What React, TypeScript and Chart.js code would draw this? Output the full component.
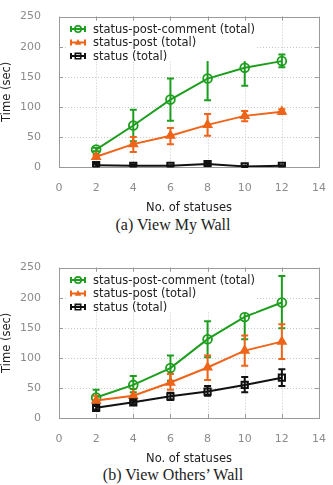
import { useEffect, useRef } from "react";
import { Chart, registerables } from "chart.js";

Chart.register(...registerables);

// Number of statuses on the wall (x positions of every series)
const statusCounts = [2, 4, 6, 8, 10, 12];
const xTickValues = [0, 2, 4, 6, 8, 10, 12, 14];
const yTickValues = [0, 50, 100, 150, 200, 250];
const seriesLabels = ["status-post-comment (total)", "status-post (total)", "status (total)"];

// (a) View My Wall — mean time and error-bar bounds, seconds
const myWallSpcMean = [29, 69, 112, 147, 165, 176];
const myWallSpcLow = [26, 43, 77, 111, 135, 166];
const myWallSpcHigh = [32, 95, 147, 184, 193, 187];
const myWallSpMean = [17, 38, 52, 70, 85, 92];
const myWallSpLow = [14, 25, 38, 52, 76, 88];
const myWallSpHigh = [20, 50, 65, 88, 93, 96];
const myWallSMean = [3, 2, 2, 5, 1, 2];
const myWallSLow = [1, 1, 1, 2, 0, 1];
const myWallSHigh = [5, 4, 3, 7, 2, 3];

// (b) View Others' Wall
const othersWallSpcMean = [34, 55, 83, 131, 168, 192];
const othersWallSpcLow = [22, 43, 62, 101, 131, 149];
const othersWallSpcHigh = [47, 70, 104, 161, 205, 236];
const othersWallSpMean = [29, 37, 59, 84, 112, 127];
const othersWallSpLow = [21, 29, 47, 63, 87, 98];
const othersWallSpHigh = [37, 48, 73, 104, 137, 156];
const othersWallSMean = [17, 26, 36, 44, 55, 67];
const othersWallSLow = [14, 23, 30, 37, 43, 53];
const othersWallSHigh = [20, 29, 42, 53, 68, 81];

const GREEN = "#1e9e1e";
const ORANGE = "#ee6418";
const BLACK = "#111111";
const seriesColors = [GREEN, ORANGE, BLACK];
const seriesStyles = ["circle", "triangle", "rect"];

type Series = { mean: number[]; low: number[]; high: number[] };

const FONT = "'DejaVu Sans', sans-serif";

function drawMarker(ctx: CanvasRenderingContext2D, style: string, x: number, y: number, r: number, color: string) {
  ctx.save();
  ctx.strokeStyle = color;
  ctx.fillStyle = color;
  ctx.lineWidth = 1.6;
  ctx.beginPath();
  if (style === "circle") {
    ctx.arc(x, y, r, 0, Math.PI * 2);
    ctx.stroke();
  } else if (style === "triangle") {
    ctx.moveTo(x, y - r * 1.1);
    ctx.lineTo(x + r, y + r * 0.7);
    ctx.lineTo(x - r, y + r * 0.7);
    ctx.closePath();
    ctx.fill();
  } else {
    ctx.rect(x - r * 0.85, y - r * 0.85, r * 1.7, r * 1.7);
    ctx.stroke();
  }
  ctx.restore();
}

const framePlugin = {
  id: "gnuFrame",
  beforeDatasetsDraw(chart: any) {
    const { ctx, chartArea: a, scales } = chart;
    const xs = scales.x;
    const ys = scales.y;
    ctx.save();
    // dotted grid
    ctx.strokeStyle = "#c8c8c8";
    ctx.lineWidth = 1;
    ctx.setLineDash([1, 2]);
    for (const v of xTickValues) {
      const px = Math.round(xs.getPixelForValue(v)) + 0.5;
      if (px <= a.left + 1 || px >= a.right - 1) continue;
      ctx.beginPath();
      ctx.moveTo(px, a.top);
      ctx.lineTo(px, a.bottom);
      ctx.stroke();
    }
    for (const v of yTickValues) {
      const py = Math.round(ys.getPixelForValue(v)) + 0.5;
      if (py <= a.top + 1 || py >= a.bottom - 1) continue;
      ctx.beginPath();
      ctx.moveTo(a.left, py);
      ctx.lineTo(a.right, py);
      ctx.stroke();
    }
    ctx.setLineDash([]);
    // frame and inward ticks
    ctx.strokeStyle = "#9a9a9a";
    ctx.strokeRect(Math.round(a.left) + 0.5, Math.round(a.top) + 0.5, Math.round(a.right - a.left), Math.round(a.bottom - a.top));
    ctx.beginPath();
    for (const v of xTickValues) {
      const px = Math.round(xs.getPixelForValue(v)) + 0.5;
      ctx.moveTo(px, a.bottom);
      ctx.lineTo(px, a.bottom - 4);
      ctx.moveTo(px, a.top);
      ctx.lineTo(px, a.top + 4);
    }
    for (const v of yTickValues) {
      const py = Math.round(ys.getPixelForValue(v)) + 0.5;
      ctx.moveTo(a.left, py);
      ctx.lineTo(a.left + 4, py);
      ctx.moveTo(a.right, py);
      ctx.lineTo(a.right - 4, py);
    }
    ctx.stroke();

    // error bars
    const bars: Series[] = chart.options.plugins.gnuFrame.series;
    bars.forEach((s, i) => {
      ctx.strokeStyle = seriesColors[i];
      ctx.lineWidth = 2;
      ctx.beginPath();
      statusCounts.forEach((c, j) => {
        const px = xs.getPixelForValue(c);
        const yl = ys.getPixelForValue(s.low[j]);
        const yh = ys.getPixelForValue(s.high[j]);
        ctx.moveTo(px, yl);
        ctx.lineTo(px, yh);
        ctx.moveTo(px - 3.5, yl);
        ctx.lineTo(px + 3.5, yl);
        ctx.moveTo(px - 3.5, yh);
        ctx.lineTo(px + 3.5, yh);
      });
      ctx.stroke();
    });
    ctx.restore();
  },
  afterDatasetsDraw(chart: any) {
    const { ctx, chartArea: a } = chart;
    ctx.save();
    ctx.font = `11.5px ${FONT}`;
    const textX = a.left + 34;
    const symX = a.left + 19;
    const rows = [a.top + 12.5, a.top + 26, a.top + 39.5];
    const maxW = Math.max(...seriesLabels.map((l) => ctx.measureText(l).width));
    ctx.fillStyle = "#ffffff";
    ctx.fillRect(symX - 10, rows[0] - 7, textX + maxW + 1 - (symX - 10), rows[2] - rows[0] + 12);
    seriesLabels.forEach((label, i) => {
      const y = rows[i];
      ctx.strokeStyle = seriesColors[i];
      ctx.lineWidth = 2;
      ctx.beginPath();
      ctx.moveTo(symX - 7, y);
      ctx.lineTo(symX + 7, y);
      ctx.moveTo(symX - 7, y - 3);
      ctx.lineTo(symX - 7, y + 3);
      ctx.moveTo(symX + 7, y - 3);
      ctx.lineTo(symX + 7, y + 3);
      ctx.stroke();
      drawMarker(ctx, seriesStyles[i], symX, y, 3.2, seriesColors[i]);
      ctx.fillStyle = "#222222";
      ctx.textBaseline = "middle";
      ctx.textAlign = "left";
      ctx.fillText(label, textX, y + 0.5);
    });
    ctx.restore();
  },
};

function WallChart({ series }: { series: Series[] }) {
  const ref = useRef<HTMLCanvasElement>(null);
  useEffect(() => {
    if (!ref.current) return;
    const orders = [3, 2, 1];
    const chart = new Chart(ref.current, {
      type: "line",
      data: {
        datasets: series.map((s, i) => ({
          label: seriesLabels[i],
          data: statusCounts.map((c, j) => ({ x: c, y: s.mean[j] })),
          borderColor: seriesColors[i],
          backgroundColor: i === 1 ? seriesColors[i] : "rgba(0,0,0,0)",
          borderWidth: 2,
          tension: 0,
          pointStyle: seriesStyles[i] as any,
          pointRadius: i === 1 ? 4.5 : 4.4,
          pointBorderWidth: i === 2 ? 2 : 1.8,
          pointBackgroundColor: i === 1 ? seriesColors[i] : "rgba(0,0,0,0)",
          pointBorderColor: seriesColors[i],
          order: orders[i],
        })),
      },
      options: {
        animation: false,
        responsive: false,
        devicePixelRatio: 1,
        layout: { padding: { top: 16, right: 11, left: 0, bottom: 0 } },
        scales: {
          x: {
            type: "linear",
            min: 0,
            max: 14,
            afterBuildTicks: (s: any) => {
              s.ticks = xTickValues.map((v) => ({ value: v }));
            },
            afterFit: (s: any) => {
              s.height = 48;
            },
            grid: { display: false },
            border: { display: false },
            ticks: { color: "#8c8c8c", font: { family: FONT, size: 11 }, padding: 7, maxRotation: 0, autoSkip: false },
            title: { display: true, text: "No. of statuses", color: "#222222", font: { family: FONT, size: 11.5 }, padding: { top: 0, bottom: 0 } },
          },
          y: {
            type: "linear",
            min: 0,
            max: 250,
            afterBuildTicks: (s: any) => {
              s.ticks = yTickValues.map((v) => ({ value: v }));
            },
            afterFit: (s: any) => {
              s.width = 59;
            },
            grid: { display: false },
            border: { display: false },
            ticks: { color: "#8c8c8c", font: { family: FONT, size: 11 }, padding: 10, autoSkip: false },
            title: { display: true, text: "Time (sec)", color: "#222222", font: { family: FONT, size: 11.5 }, padding: 0 },
          },
        },
        plugins: {
          legend: { display: false },
          tooltip: { enabled: false },
          gnuFrame: { series },
        } as any,
      },
      plugins: [framePlugin],
    });
    return () => chart.destroy();
  }, [series]);
  return <canvas ref={ref} width={333} height={215} style={{ display: "block", width: 333, height: 215 }} />;
}

const myWall: Series[] = [
  { mean: myWallSpcMean, low: myWallSpcLow, high: myWallSpcHigh },
  { mean: myWallSpMean, low: myWallSpLow, high: myWallSpHigh },
  { mean: myWallSMean, low: myWallSLow, high: myWallSHigh },
];
const othersWall: Series[] = [
  { mean: othersWallSpcMean, low: othersWallSpcLow, high: othersWallSpcHigh },
  { mean: othersWallSpMean, low: othersWallSpLow, high: othersWallSpHigh },
  { mean: othersWallSMean, low: othersWallSLow, high: othersWallSHigh },
];

const captionStyle: React.CSSProperties = {
  position: "absolute",
  left: 0,
  width: 346,
  textAlign: "center",
  fontFamily: "'Liberation Serif', serif",
  fontSize: 16,
  lineHeight: "18px",
  color: "#222",
};

export default function App() {
  return (
    <div style={{ position: "absolute", left: 0, top: 0, width: 333, height: 485, background: "#fff", overflow: "hidden" }}>
      <div style={{ position: "absolute", left: 0, top: 0 }}>
        <WallChart series={myWall} />
      </div>
      <div style={{ ...captionStyle, top: 216 }}>(a) View My Wall</div>
      <div style={{ position: "absolute", left: 0, top: 251 }}>
        <WallChart series={othersWall} />
      </div>
      <div style={{ ...captionStyle, top: 466 }}>(b) View Others’ Wall</div>
    </div>
  );
}
